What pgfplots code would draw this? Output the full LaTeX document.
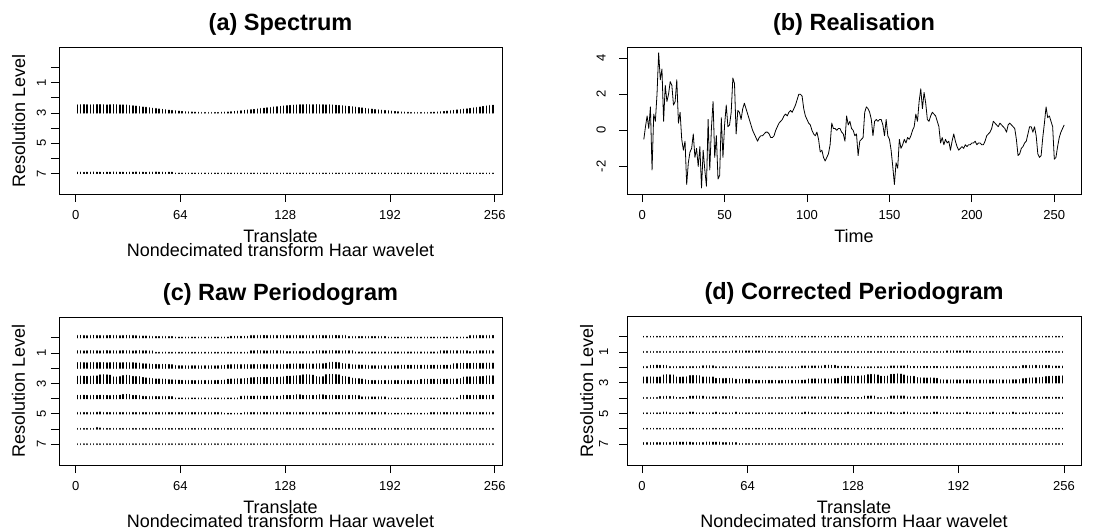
\documentclass[border=0pt]{standalone}
\usepackage{fontspec}
\setmainfont{Liberation Sans}
\usepackage{pgfplots}
\usepackage{pgfplotstable}
\pgfplotsset{compat=1.18}

\pgfplotsset{
  rplot/.style={
    scale only axis,
    clip mode=individual,
    axis line style={line width=0.8pt},
    tick style={line width=0.8pt, black},
    tick align=outside,
    tick pos=left,
    major tick length=8pt,
    /pgf/number format/assume math mode=true,
    ticklabel style={font=\fontsize{13}{15}\selectfont},
    xticklabel style={anchor=base, yshift=-17.5pt},
    yticklabel style={rotate=90, anchor=base, yshift=5pt},
    every axis x label/.style={at={(axis description cs:0.5,0)}, anchor=base, yshift=-48.5pt, font=\fontsize{18}{20}\selectfont},
    every axis y label/.style={at={(axis description cs:0,0.5)}, rotate=90, anchor=base, yshift=34pt, font=\fontsize{18}{20}\selectfont},
    title style={at={(axis description cs:0.5,1)}, anchor=base, yshift=11pt, font=\bfseries\fontsize{23.5}{26}\selectfont},
  },
  wspec/.style={rplot, y dir=reverse, ymin=-1.36, ymax=8.36,
    ytick={0,...,7}, yticklabels={,1,,3,,5,,7},
    xtick={0,64,128,192,256}, xlabel={Translate}, ylabel={Resolution Level}},
  bars/.style={no markers, black, line width=1.5pt, line cap=round},
}
\newcommand{\subtitle}{\node[anchor=base, font=\fontsize{18}{20}\selectfont] at ([yshift=-62.5pt]axis description cs:0.5,0) {Nondecimated transform Haar wavelet};}

\begin{document}
% heights of the segments, in hundredths of a resolution level
\pgfplotstableread[row sep=\\]{
t l3 l7\\
1 52 7\\ 3 53 7\\ 5 54 6\\ 7 53 7\\ 9 52 7\\ 11 53 8\\ 13 54 7\\ 15 54 7\\
17 53 6\\ 19 52 7\\ 21 53 7\\ 23 54 8\\ 25 53 7\\ 27 52 7\\ 29 52 7\\ 31 51 6\\
33 48 7\\ 35 46 7\\ 37 44 8\\ 39 41 7\\ 41 38 7\\ 43 36 6\\ 45 33 7\\ 47 30 7\\
49 28 8\\ 51 25 7\\ 53 22 7\\ 55 20 6\\ 57 17 7\\ 59 15 7\\ 61 13 1\\ 63 11 1\\
65 9 1\\ 67 7 1\\ 69 6 1\\ 71 5 1\\ 73 4 1\\ 75 3 1\\ 77 2 1\\ 79 2 1\\
81 2 1\\ 83 2 1\\ 85 2 1\\ 87 2 1\\ 89 3 1\\ 91 4 1\\ 93 5 1\\ 95 7 1\\
97 9 1\\ 99 11 1\\ 101 13 1\\ 103 16 1\\ 105 18 1\\ 107 20 1\\ 109 22 1\\ 111 25 1\\
113 28 1\\ 115 30 1\\ 117 33 1\\ 119 35 1\\ 121 38 1\\ 123 40 1\\ 125 42 1\\ 127 45 1\\
129 47 1\\ 131 49 1\\ 133 50 1\\ 135 51 1\\ 137 53 1\\ 139 53 1\\ 141 54 1\\ 143 53 1\\
145 53 1\\ 147 54 1\\ 149 53 1\\ 151 53 1\\ 153 52 1\\ 155 53 1\\ 157 51 1\\ 159 50 1\\
161 48 1\\ 163 46 1\\ 165 44 1\\ 167 42 1\\ 169 40 1\\ 171 37 1\\ 173 34 1\\ 175 32 1\\
177 29 1\\ 179 26 1\\ 181 24 1\\ 183 21 1\\ 185 19 1\\ 187 17 1\\ 189 15 1\\ 191 13 1\\
193 11 1\\ 195 9 1\\ 197 7 1\\ 199 5 1\\ 201 4 1\\ 203 3 1\\ 205 2 1\\ 207 2 1\\
209 2 1\\ 211 2 1\\ 213 2 1\\ 215 2 1\\ 217 3 1\\ 219 4 1\\ 221 5 1\\ 223 7 1\\
225 9 1\\ 227 11 1\\ 229 13 1\\ 231 16 1\\ 233 19 1\\ 235 21 1\\ 237 24 1\\ 239 26 1\\
241 29 1\\ 243 32 1\\ 245 35 1\\ 247 38 1\\ 249 42 1\\ 251 45 1\\ 253 48 1\\ 255 50 1\\
}\tabA

\pgfplotstableread[row sep=\\]{
t c0 c1 c2 c3 c4 c5 c6 c7\\
1 13 13 35 46 20 8 3 2\\ 3 14 13 36 47 20 8 3 2\\ 5 13 12 35 46 21 8 3 2\\ 7 12 13 34 45 20 8 3 2\\
9 13 14 35 46 19 8 3 2\\ 11 14 13 36 47 20 8 3 2\\ 13 13 13 35 48 20 9 9 2\\ 15 13 12 36 55 21 11 6 2\\
17 12 13 35 56 20 8 3 2\\ 19 13 14 34 55 20 8 3 2\\ 21 14 13 35 53 19 8 3 2\\ 23 13 13 36 42 20 8 3 2\\
25 13 12 35 41 20 8 3 2\\ 27 12 13 34 44 21 8 3 2\\ 29 13 14 35 50 26 8 3 2\\ 31 14 13 35 52 27 8 3 2\\
33 13 13 34 50 25 8 3 2\\ 35 13 12 35 45 20 8 3 2\\ 37 12 13 33 44 20 8 3 2\\ 39 10 14 32 43 19 8 3 2\\
41 10 13 28 38 14 8 3 2\\ 43 10 13 27 35 13 8 3 2\\ 45 9 12 26 33 13 8 3 2\\ 47 7 12 24 30 13 8 3 2\\
49 7 3 24 28 13 8 3 2\\ 51 7 3 23 28 12 8 3 2\\ 53 7 3 24 27 13 8 3 2\\ 55 7 4 24 26 13 8 3 2\\
57 6 3 23 23 13 8 3 2\\ 59 7 3 22 22 12 8 3 2\\ 61 3 3 16 21 3 8 3 2\\ 63 3 3 15 20 3 8 3 2\\
65 3 3 15 19 3 8 3 2\\ 67 3 3 15 18 3 8 3 2\\ 69 3 3 14 18 3 8 3 2\\ 71 3 3 15 18 3 8 3 2\\
73 3 3 15 17 3 8 3 2\\ 75 3 3 15 18 3 8 3 2\\ 77 3 3 14 18 3 8 3 2\\ 79 3 3 15 18 3 8 3 2\\
81 3 3 15 18 3 8 3 2\\ 83 3 3 15 18 3 8 3 2\\ 85 3 3 14 18 3 8 3 2\\ 87 3 3 15 19 3 8 3 2\\
89 3 3 16 19 3 8 3 2\\ 91 3 3 17 20 3 3 3 2\\ 93 3 3 21 26 3 3 3 2\\ 95 8 3 22 28 3 3 3 2\\
97 8 3 22 28 3 3 3 2\\ 99 8 3 22 29 3 3 3 2\\ 101 8 3 22 29 14 3 3 2\\ 103 8 3 22 30 15 8 3 2\\
105 8 3 22 32 15 8 3 2\\ 107 13 13 22 36 15 8 3 2\\ 109 13 13 23 37 15 8 3 2\\ 111 13 14 22 38 16 8 3 2\\
113 13 13 22 38 15 8 3 2\\ 115 14 13 23 38 15 8 3 2\\ 117 13 12 22 38 15 8 3 2\\ 119 13 13 22 39 15 8 3 2\\
121 13 14 23 38 16 8 3 2\\ 123 13 13 22 39 15 8 3 2\\ 125 14 13 23 40 15 8 3 2\\ 127 13 12 22 42 20 8 3 2\\
129 13 8 24 46 20 8 3 2\\ 131 13 8 26 46 20 8 3 2\\ 133 13 8 26 47 20 8 3 2\\ 135 14 8 27 49 24 8 3 2\\
137 13 8 26 50 24 8 3 2\\ 139 13 8 26 55 20 8 3 2\\ 141 13 8 27 56 20 8 3 2\\ 143 13 8 26 55 20 8 3 2\\
145 13 8 26 53 20 8 3 2\\ 147 13 13 27 43 20 8 3 2\\ 149 14 13 28 41 24 8 3 2\\ 151 13 13 28 43 24 8 3 2\\
153 13 12 31 56 20 8 3 2\\ 155 13 13 36 58 20 8 3 2\\ 157 13 14 38 58 21 8 3 2\\ 159 14 13 37 57 20 8 3 2\\
161 13 13 35 55 20 8 3 2\\ 163 13 12 29 45 20 8 3 2\\ 165 13 13 27 44 19 8 3 2\\ 167 7 13 26 40 20 8 3 2\\
169 7 13 21 33 20 8 3 2\\ 171 7 5 20 31 20 8 3 2\\ 173 7 5 20 30 19 8 3 2\\ 175 7 5 19 27 10 8 3 2\\
177 7 5 19 23 10 8 3 2\\ 179 7 5 16 19 10 8 3 2\\ 181 7 5 15 18 10 8 3 2\\ 183 7 5 15 18 10 8 3 2\\
185 7 5 15 18 10 8 3 2\\ 187 7 5 15 17 10 8 3 2\\ 189 7 5 15 18 10 8 3 2\\ 191 3 5 15 18 3 3 3 2\\
193 3 5 15 18 3 3 3 2\\ 195 3 5 15 18 3 3 3 2\\ 197 3 5 16 18 3 3 3 2\\ 199 3 5 18 18 3 3 3 2\\
201 3 5 18 18 3 3 3 2\\ 203 3 5 18 18 3 3 3 2\\ 205 3 5 18 18 3 3 3 2\\ 207 3 5 18 18 3 3 3 2\\
209 3 5 18 19 3 3 3 2\\ 211 3 5 18 25 3 3 3 2\\ 213 3 5 18 26 3 3 3 2\\ 215 3 5 18 26 3 3 3 2\\
217 3 5 18 26 3 8 3 2\\ 219 3 5 18 26 3 8 3 2\\ 221 3 5 18 26 3 8 3 2\\ 223 3 13 18 26 3 8 3 2\\
225 3 13 18 26 3 8 3 2\\ 227 3 13 18 26 3 8 3 2\\ 229 3 13 19 27 3 8 3 2\\ 231 3 13 28 27 3 8 3 2\\
233 3 13 29 28 3 8 3 2\\ 235 3 13 30 30 20 8 3 2\\ 237 3 13 30 40 20 8 3 2\\ 239 3 13 30 42 21 8 3 2\\
241 13 8 30 42 20 8 3 2\\ 243 13 8 31 42 20 8 3 2\\ 245 13 13 30 43 20 8 3 2\\ 247 14 13 31 44 21 8 3 2\\
249 13 13 31 45 20 8 3 2\\ 251 13 13 32 48 20 8 3 2\\ 253 13 13 32 48 20 8 3 2\\ 255 14 13 32 49 21 8 3 2\\
}\tabC

\pgfplotstableread[row sep=\\]{
t d0 d1 d2 d3 d4 d5 d6 d7\\
1 2 3 5 37 3 3 2 9\\ 3 2 3 5 37 3 3 2 9\\ 5 2 3 13 38 3 3 2 9\\ 7 2 3 13 37 3 3 2 9\\
9 2 3 14 36 3 3 2 9\\ 11 2 3 13 37 10 3 2 9\\ 13 2 3 13 50 10 8 2 9\\ 15 2 3 12 52 11 8 2 9\\
17 2 3 5 51 10 3 2 9\\ 19 2 3 5 50 10 3 2 12\\ 21 2 3 5 37 4 3 2 12\\ 23 2 3 5 36 4 3 2 12\\
25 2 3 5 37 4 3 2 12\\ 27 2 3 5 38 4 3 2 12\\ 29 2 3 5 46 12 8 2 12\\ 31 2 3 5 47 12 8 2 9\\
33 2 3 5 46 13 3 2 9\\ 35 2 3 5 45 12 3 2 9\\ 37 2 3 10 37 12 3 2 9\\ 39 2 3 10 37 7 3 2 12\\
41 2 3 10 36 7 3 2 12\\ 43 2 3 10 37 7 3 2 12\\ 45 2 3 4 28 7 8 2 12\\ 47 2 3 4 28 7 3 2 12\\
49 2 3 4 27 9 3 2 9\\ 51 2 3 4 28 9 3 2 9\\ 53 2 3 4 28 9 3 2 9\\ 55 2 7 4 27 9 3 2 9\\
57 2 7 4 22 3 8 2 9\\ 59 2 7 4 22 3 3 2 2\\ 61 2 7 4 22 3 3 2 2\\ 63 2 7 4 21 3 3 2 2\\
65 2 7 4 22 3 3 2 2\\ 67 2 7 4 16 3 3 2 2\\ 69 2 7 4 15 3 3 2 2\\ 71 2 7 4 15 3 3 2 2\\
73 2 7 4 15 3 3 2 2\\ 75 2 7 4 15 3 3 2 2\\ 77 2 3 4 15 3 3 2 2\\ 79 2 3 4 15 3 3 2 2\\
81 2 3 4 15 3 3 2 2\\ 83 2 3 4 14 3 3 2 2\\ 85 2 3 4 15 3 3 2 2\\ 87 2 3 4 15 3 3 2 2\\
89 2 3 4 16 3 3 2 2\\ 91 2 3 4 15 7 3 2 2\\ 93 2 3 4 15 7 3 2 2\\ 95 2 3 4 16 7 3 2 2\\
97 2 3 9 16 7 3 2 2\\ 99 2 3 9 17 7 8 2 2\\ 101 2 3 9 24 7 8 2 2\\ 103 2 3 9 24 7 3 2 2\\
105 2 3 9 25 7 3 2 2\\ 107 2 3 9 24 7 3 2 2\\ 109 2 3 9 24 7 3 2 2\\ 111 2 3 13 25 7 3 2 2\\
113 2 3 14 24 7 3 2 2\\ 115 2 3 13 24 7 3 2 2\\ 117 2 3 13 26 7 3 2 2\\ 119 2 3 7 28 7 3 2 2\\
121 2 3 7 40 4 3 2 2\\ 123 2 3 7 42 4 3 2 2\\ 125 2 3 7 42 4 8 2 2\\ 127 2 3 7 43 4 3 2 2\\
129 2 3 4 42 4 3 2 2\\ 131 2 3 4 43 4 3 2 2\\ 133 2 3 4 44 4 3 2 2\\ 135 2 3 4 46 12 3 2 2\\
137 2 3 4 52 12 3 2 2\\ 139 2 3 4 54 13 8 2 2\\ 141 2 3 4 53 12 8 2 2\\ 143 2 3 4 50 3 3 2 2\\
145 2 3 4 42 3 3 2 2\\ 147 2 3 4 41 3 3 2 2\\ 149 2 3 4 43 3 8 2 2\\ 151 2 3 9 54 13 8 2 2\\
153 2 3 9 55 13 3 2 2\\ 155 2 3 9 57 14 3 2 2\\ 157 2 3 9 56 13 3 2 2\\ 159 2 3 9 50 13 8 2 2\\
161 2 3 12 43 7 8 2 2\\ 163 2 3 6 42 7 3 2 2\\ 165 2 3 6 41 7 3 2 2\\ 167 2 3 6 33 7 3 2 2\\
169 2 3 6 31 7 3 2 2\\ 171 2 3 6 31 10 3 2 2\\ 173 2 3 6 30 10 3 2 2\\ 175 2 3 6 31 10 3 2 2\\
177 2 3 6 30 10 8 2 2\\ 179 2 3 6 28 10 8 2 2\\ 181 2 3 5 19 8 3 2 2\\ 183 2 3 5 18 8 3 2 2\\
185 2 7 5 18 8 3 2 2\\ 187 2 7 5 18 8 3 2 2\\ 189 2 7 5 18 5 3 2 2\\ 191 2 7 5 18 5 3 2 2\\
193 2 7 5 18 5 3 2 2\\ 195 2 7 5 18 5 3 2 2\\ 197 2 7 5 18 5 8 2 2\\ 199 2 7 5 18 5 3 2 2\\
201 2 3 5 18 5 3 2 2\\ 203 2 3 5 18 5 3 2 2\\ 205 2 3 5 18 5 3 2 2\\ 207 2 3 5 17 5 3 2 2\\
209 2 3 5 18 5 3 2 2\\ 211 2 3 5 18 5 3 2 2\\ 213 2 3 5 18 5 8 2 2\\ 215 2 3 5 18 5 3 2 2\\
217 2 3 5 19 5 3 2 2\\ 219 2 3 5 18 5 3 2 2\\ 221 2 3 5 18 5 3 2 2\\ 223 2 3 5 18 5 3 2 2\\
225 2 3 5 19 5 8 2 2\\ 227 2 3 5 19 5 3 2 2\\ 229 2 3 5 20 5 3 2 2\\ 231 2 3 12 26 5 3 2 2\\
233 2 3 12 28 5 3 2 2\\ 235 2 3 12 30 5 8 2 2\\ 237 2 3 12 31 5 3 2 2\\ 239 2 3 13 32 5 3 2 2\\
241 2 5 12 33 5 3 2 2\\ 243 2 5 12 35 5 3 2 2\\ 245 2 5 12 40 5 3 2 2\\ 247 2 5 12 41 5 3 2 2\\
249 2 5 8 42 5 3 2 2\\ 251 2 3 8 42 5 3 2 2\\ 253 2 3 8 43 5 3 2 2\\ 255 2 3 8 44 5 3 2 2\\
}\tabD

\begin{tikzpicture}
\useasboundingbox (0,0) rectangle (1118pt,-532pt);

% (a) spectrum
\begin{axis}[wspec, at={(59pt,-47pt)}, anchor=north west, width=443pt, height=147pt,
  xmin=-10.2, xmax=260.5, title={(a) Spectrum}]
  \addplot[bars, quiver={u=0, v=-\thisrow{l3}/100}] table[x=t, y expr=3] {\tabA};
  \addplot[bars, quiver={u=0, v=-\thisrow{l7}/100}] table[x=t, y expr=7] {\tabA};
  \subtitle
\end{axis}

% (b) realisation
\begin{axis}[rplot, at={(627pt,-47pt)}, anchor=north west, width=454pt, height=147pt,
  xmin=-9.2, xmax=266.2, ymin=-3.53, ymax=4.62,
  xtick={0,50,...,250}, ytick={-2,0,2,4}, xlabel={Time},
  yticklabel style={yshift=8.5pt}, title={(b) Realisation}]
  \addplot[black, line width=0.8pt, line join=round, no markers] coordinates {
  (1,-0.5)(2,0.2)(3,0.8)(4,0.1)(5,1.3)(6,-2.2)(7,0.9)(8,0.5)(9,2.0)(10,4.3)
  (11,2.8)(12,3.4)(13,0.5)(14,2.5)(15,1.6)(16,2.0)(17,2.7)(18,2.5)(19,1.4)(20,1.6)
  (21,2.8)(22,0.4)(23,1.0)(24,-0.5)(25,-1.1)(26,-0.6)(27,-3.0)(28,-1.8)(29,-1.2)(30,-1.0)
  (31,-0.2)(32,-1.5)(33,-1.0)(34,-2.0)(35,-0.9)(36,-3.2)(37,-1.1)(38,-2.2)(39,-3.1)(40,0.6)
  (41,-2.2)(42,0.1)(43,1.6)(44,-1.5)(45,-0.3)(46,-2.7)(47,-2.5)(48,0.7)(49,-1.5)(50,0.3)
  (51,1.4)(52,0.2)(53,0.3)(54,1.0)(55,2.9)(56,2.6)(57,-0.2)(58,1.1)(59,1.0)(60,0.6)
  (61,1.2)(62,1.5)(63,1.2)(64,0.9)(65,0.6)(66,0.3)(67,0.0)(68,-0.2)(69,-0.4)(70,-0.6)
  (71,-0.4)(72,-0.3)(73,-0.3)(74,-0.2)(75,-0.1)(76,-0.1)(77,-0.2)(78,-0.4)(79,-0.4)(80,-0.3)
  (81,0.0)(82,0.2)(83,0.4)(84,0.5)(85,0.6)(86,0.8)(87,0.9)(88,0.8)(89,1.0)(90,1.1)
  (91,1.0)(92,1.2)(93,1.4)(94,1.7)(95,2.0)(96,2.0)(97,1.9)(98,1.2)(99,0.8)(100,0.6)
  (101,0.4)(102,0.3)(103,0.0)(104,-0.2)(105,-0.3)(106,-0.1)(107,-0.5)(108,-1.2)(109,-1.1)(110,-1.5)
  (111,-1.7)(112,-1.5)(113,-1.3)(114,-0.8)(115,0.4)(116,0.1)(117,0.1)(118,0.0)(119,0.1)(120,0.1)
  (121,-0.1)(122,-0.2)(123,-0.6)(124,0.8)(125,0.3)(126,0.5)(127,0.1)(128,0.0)(129,-0.3)(130,-0.2)
  (131,-1.4)(132,-0.6)(133,-0.5)(134,-0.4)(135,1.0)(136,1.3)(137,1.2)(138,1.0)(139,0.6)(140,-0.3)
  (141,0.5)(142,0.6)(143,0.5)(144,0.6)(145,0.6)(146,0.3)(147,-0.3)(148,0.6)(149,-0.3)(150,-0.5)
  (151,-1.1)(152,-2.0)(153,-3.0)(154,-1.8)(155,-2.1)(156,-0.5)(157,-1.0)(158,-0.8)(159,-0.5)(160,-0.7)
  (161,-0.4)(162,-0.5)(163,-0.3)(164,0.0)(165,0.2)(166,0.9)(167,0.5)(168,1.6)(169,2.3)(170,1.2)
  (171,2.1)(172,1.5)(173,0.6)(174,0.5)(175,0.8)(176,1.0)(177,0.9)(178,0.8)(179,0.5)(180,0.2)
  (181,-0.7)(182,-0.4)(183,-0.8)(184,-0.5)(185,-0.7)(186,-0.6)(187,-1.1)(188,-0.6)(189,-0.2)(190,-0.6)
  (191,-0.9)(192,-1.1)(193,-1.0)(194,-0.9)(195,-1.0)(196,-0.8)(197,-0.9)(198,-0.8)(199,-0.8)(200,-0.7)
  (201,-0.7)(202,-0.6)(203,-0.8)(204,-0.7)(205,-0.7)(206,-0.8)(207,-0.8)(208,-0.6)(209,-0.3)(210,-0.2)
  (211,-0.1)(212,0.1)(213,0.5)(214,0.4)(215,0.3)(216,0.2)(217,0.4)(218,0.3)(219,0.2)(220,0.1)
  (221,-0.1)(222,0.3)(223,0.4)(224,0.3)(225,0.2)(226,0.1)(227,-0.5)(228,-1.4)(229,-1.3)(230,-1.0)
  (231,-0.9)(232,-0.7)(233,-0.6)(234,-0.2)(235,0.2)(236,0.2)(237,-0.1)(238,0.2)(239,-0.3)(240,-1.3)
  (241,-1.5)(242,-1.4)(243,-0.4)(244,0.4)(245,1.3)(246,0.7)(247,0.8)(248,0.5)(249,0.2)(250,-1.6)
  (251,-1.5)(252,-0.9)(253,-0.4)(254,-0.1)(255,0.1)(256,0.3)};
\end{axis}

% (c) raw periodogram
\begin{axis}[wspec, at={(59pt,-317pt)}, anchor=north west, width=443pt, height=148pt,
  xmin=-10.2, xmax=260.5, title={(c) Raw Periodogram}]
  \pgfplotsinvokeforeach{0,...,7}{
    \addplot[bars, quiver={u=0, v=-\thisrow{c#1}/100}] table[x=t, y expr=#1] {\tabC};
  }
  \subtitle
\end{axis}

% (d) corrected periodogram
\begin{axis}[wspec, at={(627pt,-316pt)}, anchor=north west, width=454pt, height=149pt,
  xmin=-9.1, xmax=266.3, yticklabel style={yshift=6pt}, title={(d) Corrected Periodogram}]
  \pgfplotsinvokeforeach{0,...,7}{
    \addplot[bars, quiver={u=0, v=-\thisrow{d#1}/100}] table[x=t, y expr=#1] {\tabD};
  }
  \subtitle
\end{axis}
\end{tikzpicture}
\end{document}
